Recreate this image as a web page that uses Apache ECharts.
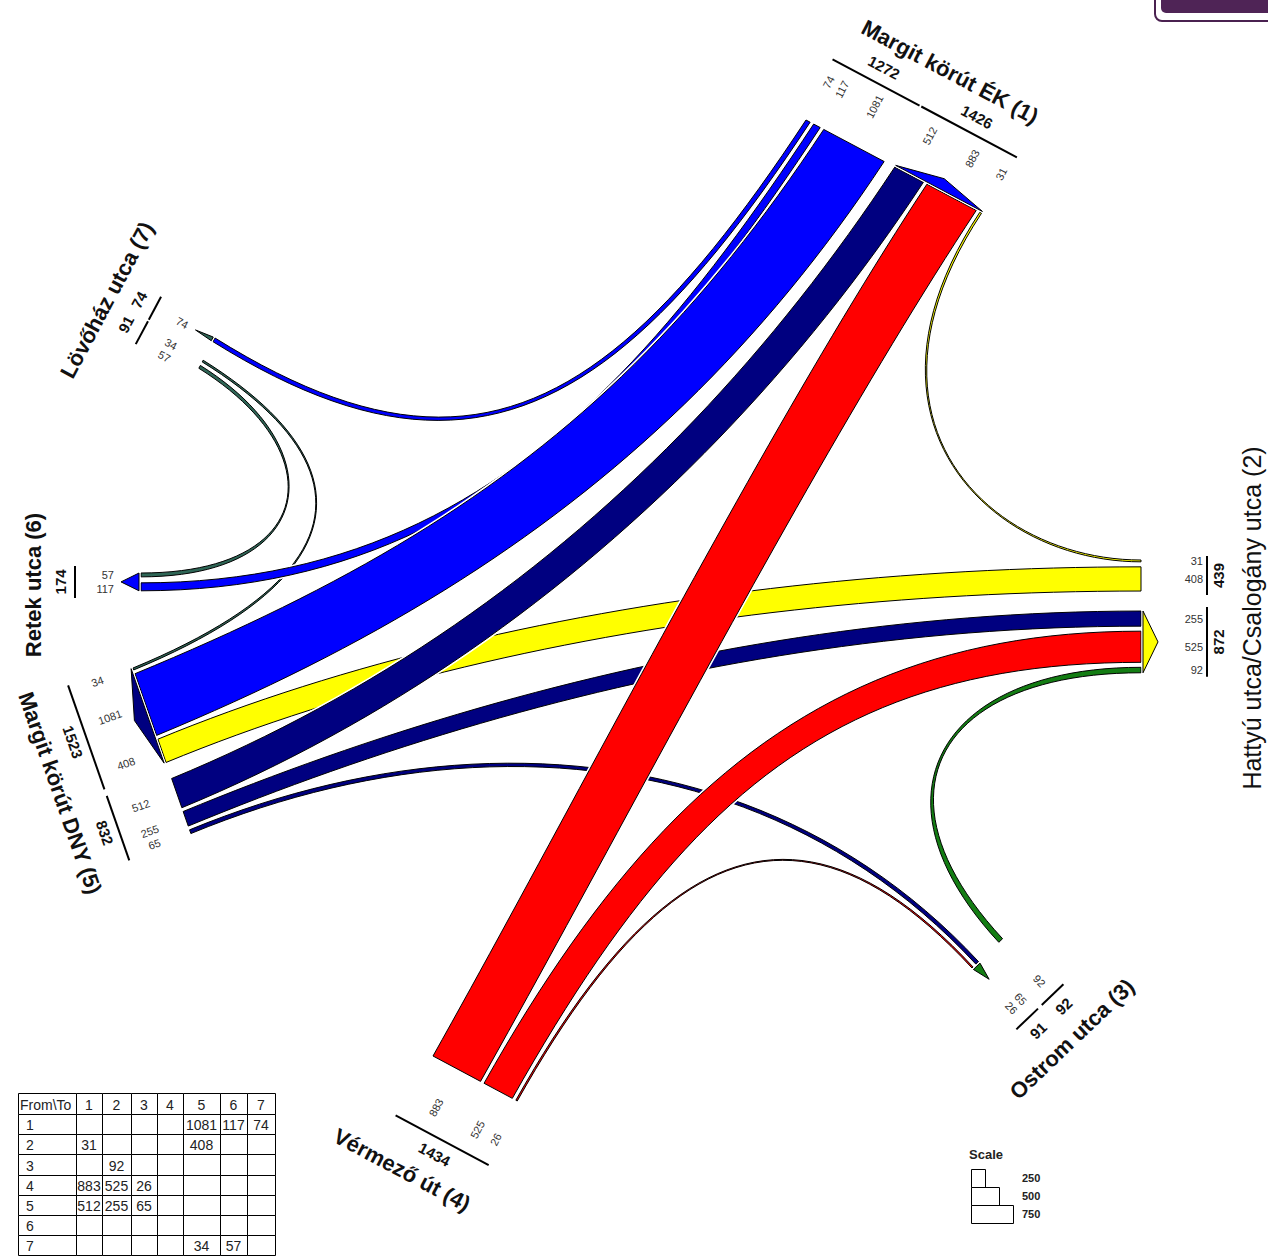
<!DOCTYPE html>
<html>
<head>
<meta charset="utf-8">
<title>Forgalmi áramlási diagram</title>
<script src="https://cdn.jsdelivr.net/npm/echarts@6.0.0/dist/echarts.min.js"></script>
<style>
html,body{margin:0;padding:0;background:#ffffff;}
#chart{width:1268px;height:1258px;}
</style>
</head>
<body>
<div id="chart"></div>
<script>
// ---------------- DATA ----------------
const armNames = ['Margit körút ÉK (1)', 'Hattyú utca/Csalogány utca (2)', 'Ostrom utca (3)', 'Vérmező út (4)', 'Margit körút DNY (5)', 'Retek utca (6)', 'Lövőház utca (7)'];
// flows (drawing order: later ones on top)
const flowFrom  = [7, 7, 1, 1, 1, 2, 3, 2, 5, 4, 5, 5, 4, 4];
const flowTo    = [6, 5, 7, 6, 5, 1, 2, 5, 3, 3, 2, 1, 2, 1];
const flowValue = [57, 34, 74, 117, 1081, 31, 92, 408, 65, 26, 255, 512, 525, 883];
const scaleValues = [250, 500, 750];
const tableHeader = ['From\\To', '1', '2', '3', '4', '5', '6', '7'];
const tableRowLabels = ['1', '2', '3', '4', '5', '6', '7'];

// ---------------- LAYOUT / STYLE ----------------
const K = 0.0565; // px per vehicle
const FONT = '"Liberation Sans", Arial, sans-serif';
const ARM = {
  '1': {p:[806,120], u:[0.883,0.469], d:[-0.55,0.835], s:1.12, gap:4, G:12,
        groups:[['1>7','1>6','1>5'],['5>1','4>1','2>1']], color:'#0000ff', arrowH:13,
        labOff:44, minSp:15, lineOff:66, ext:5, minLen:0, totOff:83, name:[950,72], nameFont:'bold 22px '+FONT},
  '2': {p:[1141,560], u:[0,1], d:[-1,0], s:1.05, gap:5, G:20,
        groups:[['2>1','2>5'],['5>2','4>2','3>2']], color:'#ffff00', arrowH:17,
        labOff:62, labAlign:'right', minSp:13, lineOff:66, ext:4, minLen:0, totOff:77, name:[1252,618], nameFont:'25px '+FONT},
  '3': {p:[972,968], u:[0.722,-0.692], d:[-0.68,-0.733], s:1, gap:4, G:28,
        groups:[['4>3','5>3'],['3>2']], color:'#137d13', arrowH:20,
        labOff:56, minSp:13, lineOff:75, ext:3, minLen:30, totOff:91, name:[1072,1039], nameFont:'bold 22px '+FONT},
  '4': {p:[433,1056], u:[0.882,0.471], d:[0.49,-0.872], s:1.08, gap:4, G:0,
        groups:[['4>1','4>2','4>3']], color:'#ff0000', arrowH:0,
        labOff:44, minSp:13, lineOff:70, ext:5, minLen:0, totOff:86, name:[402,1170], nameFont:'bold 22px '+FONT},
  '5': {p:[133,668], u:[0.33,0.944], d:[0.924,-0.382], s:1.07, gap:4, G:17,
        groups:[['7>5','1>5','2>5'],['5>1','5>2','5>3']], color:'#000080', arrowH:16,
        labOff:38, minSp:13, lineOff:67, ext:5, minLen:0, totOff:81, name:[60,793], nameFont:'bold 22px '+FONT},
  '6': {p:[141,573], u:[0,1], d:[1,0], s:1.2, gap:6, G:0,
        groups:[['7>6','1>6']], color:'#0000ff', arrowH:20,
        labOff:27, labAlign:'right', minSp:14, lineOff:66, ext:4, minLen:32, totOff:81, name:[33,585], nameFont:'bold 22px '+FONT},
  '7': {p:[215,338], u:[-0.471,0.882], d:[0.848,0.53], s:1, gap:4, G:21,
        groups:[['1>7'],['7>5','7>6']], color:'#2e6656', arrowH:21,
        labOff:36, minSp:14, lineOff:67, ext:3, minLen:26, totOff:85, name:[107,300], nameFont:'bold 22px '+FONT}
};
const FLOWBEND = {
  '7>6':[160,175], '7>5':[190,250], '1>7':[350,300], '1>6':[320,320], '1>5':[330,340],
  '2>1':[150,250], '3>2':[200,200], '2>5':[350,300], '5>3':[300,300], '4>3':[300,250],
  '5>2':[300,350], '5>1':[330,330], '4>2':[350,300], '4>1':[300,300]
};
const TBL = {x:[18,76,102,131,157,183,220,247,275], top:1093, hh:21, rh:20.2};
const SCALEBOX = {x:971, y:1169, h:18, labX:1022};

// ---------------- GEOMETRY ----------------
function flowKey(i){ return flowFrom[i] + '>' + flowTo[i]; }
function valueOf(key){ for (let i=0;i<flowValue.length;i++){ if (flowKey(i)===key) return flowValue[i]; } return 0; }

const SLOT = {}, GROUPS = {};
Object.keys(ARM).forEach(k => {
  const A = ARM[k];
  const ul = Math.hypot(A.u[0], A.u[1]); A.u = [A.u[0]/ul, A.u[1]/ul];
  const dl = Math.hypot(A.d[0], A.d[1]); A.d = [A.d[0]/dl, A.d[1]/dl];
  let n = [A.u[1], -A.u[0]];
  if (n[0]*A.d[0] + n[1]*A.d[1] > 0) n = [-n[0], -n[1]];
  A.n = n;
  SLOT[k] = {}; GROUPS[k] = [];
  let pos = 0;
  A.groups.forEach((g, gi) => {
    if (gi > 0) pos += A.G;
    const gs = pos; let total = 0;
    g.forEach((key, j) => {
      if (j > 0) pos += A.gap;
      const v = valueOf(key);
      const l = v * K * A.s;
      SLOT[k][key] = [pos, pos + l];
      pos += l; total += v;
    });
    GROUPS[k].push({start: gs, end: pos, total: total, incoming: g.every(key => key.split('>')[1] === k)});
  });
});

function pt(k, t, off){
  const A = ARM[k]; off = off || 0;
  return [A.p[0] + A.u[0]*t + A.n[0]*off, A.p[1] + A.u[1]*t + A.n[1]*off];
}

function ribbonPoints(i){
  const a = String(flowFrom[i]), b = String(flowTo[i]), key = flowKey(i);
  const A = ARM[a], B = ARM[b];
  const sa = SLOT[a][key], sb = SLOT[b][key];
  const A0 = pt(a, sa[0]), A1 = pt(a, sa[1]), B0 = pt(b, sb[0]), B1 = pt(b, sb[1]);
  const cA = A.d[0]*A.u[1] - A.d[1]*A.u[0];
  const cB = (-B.d[0])*B.u[1] - (-B.d[1])*B.u[0];
  const pairs = (cA*cB > 0) ? [[A0,B0],[A1,B1]] : [[A0,B1],[A1,B0]];
  const LA = FLOWBEND[key][0], LB = FLOWBEND[key][1];
  const N = 48;
  function edge(P, Q){
    const c1 = [P[0]+A.d[0]*LA, P[1]+A.d[1]*LA];
    const c2 = [Q[0]+B.d[0]*LB, Q[1]+B.d[1]*LB];
    const out = [];
    for (let s=0; s<=N; s++){
      const t = s/N, m = 1-t;
      out.push([m*m*m*P[0] + 3*m*m*t*c1[0] + 3*m*t*t*c2[0] + t*t*t*Q[0],
                m*m*m*P[1] + 3*m*m*t*c1[1] + 3*m*t*t*c2[1] + t*t*t*Q[1]]);
    }
    return out;
  }
  const e0 = edge(pairs[0][0], pairs[0][1]);
  const e1 = edge(pairs[1][0], pairs[1][1]).reverse();
  return e0.concat(e1);
}

function alongRot(u){
  let v = Math.abs(u[0]) < 0.05 ? [0,-1] : (u[0] > 0 ? u : [-u[0], -u[1]]);
  return -Math.atan2(v[1], v[0]);
}
function perpRot(n){
  if (Math.abs(n[1]) < 0.05) return 0;
  let v = n[0] > 0 ? n : [-n[0], -n[1]];
  return -Math.atan2(v[1], v[0]);
}
function txt(x, y, text, font, opts){
  opts = opts || {};
  const align = opts.align || 'center';
  return {type:'text', x:x, y:y, rotation: opts.rotation || 0, silent:true, z: 10,
    style:{text:String(text), font:font, fill: opts.fill || '#111',
      align: align, verticalAlign:'middle', textAlign: align, textVerticalAlign:'middle'}};
}

// ---------------- GRAPHIC (labels, lines) ----------------
const graphics = [];
Object.keys(ARM).forEach(k => {
  const A = ARM[k];
  const keys = [].concat.apply([], A.groups);
  let last = -1e9;
  keys.forEach(key => {
    const sl = SLOT[k][key];
    let c = (sl[0]+sl[1])/2;
    if (c < last + A.minSp) c = last + A.minSp;
    last = c;
    const P = pt(k, c, A.labOff);
    graphics.push(txt(P[0], P[1], valueOf(key), '11px ' + FONT, {rotation: perpRot(A.n), fill:'#333', align: A.labAlign || 'center'}));
  });
  GROUPS[k].forEach(g => {
    const c = (g.start + g.end)/2;
    const len = Math.max(g.end - g.start + 2*A.ext, A.minLen);
    const P = pt(k, c - len/2, A.lineOff), Q = pt(k, c + len/2, A.lineOff);
    graphics.push({type:'line', silent:true, shape:{x1:P[0], y1:P[1], x2:Q[0], y2:Q[1]}, style:{stroke:'#000', lineWidth:2}});
    const T = pt(k, c, A.totOff);
    graphics.push(txt(T[0], T[1], g.total, 'bold 15px ' + FONT, {rotation: alongRot(A.u)}));
  });
  graphics.push(txt(A.name[0], A.name[1], armNames[+k-1], A.nameFont, {rotation: alongRot(A.u)}));
});
graphics.push({type:'text', x:SCALEBOX.x - 2, y:SCALEBOX.y - 15, silent:true,
  style:{text:'Scale', font:'bold 13px ' + FONT, fill:'#222', align:'left', verticalAlign:'middle', textAlign:'left', textVerticalAlign:'middle'}});
graphics.push({type:'rect', silent:true, shape:{x:1155, y:-14, width:130, height:35, r:7}, style:{fill:'#ffffff', stroke:'#4a2150', lineWidth:2}});
graphics.push({type:'rect', silent:true, shape:{x:1161, y:-14, width:124, height:27, r:5}, style:{fill:'#4f2456'}});

// ---------------- SERIES ----------------
const ribbonSeries = {
  type:'custom', coordinateSystem:'cartesian2d', silent:true, clip:false, animation:false, z:2,
  data: flowValue.map((v, i) => [i, v]),
  renderItem: function(params, api){
    const i = api.value(0);
    const pts = ribbonPoints(i).map(p => api.coord(p));
    return {type:'group', children:[
      {type:'polygon', shape:{points:pts}, style:{fill:'none', stroke:'#ffffff', lineWidth:4, lineJoin:'round'}},
      {type:'polygon', shape:{points:pts}, style:{fill:ARM[String(flowFrom[i])].color, stroke:'#000000', lineWidth:1, lineJoin:'miter'}}
    ]};
  }
};

const arrowArms = Object.keys(ARM).filter(k => GROUPS[k].some(g => g.incoming)).map(Number);
const arrowSeries = {
  type:'custom', coordinateSystem:'cartesian2d', silent:true, clip:false, animation:false, z:3,
  data: arrowArms.map(k => [k, 0]),
  renderItem: function(params, api){
    const k = String(api.value(0));
    const A = ARM[k];
    const g = GROUPS[k].filter(x => x.incoming)[0];
    const pts = [pt(k, g.start, 2), pt(k, (g.start+g.end)/2, A.arrowH), pt(k, g.end, 2)].map(p => api.coord(p));
    return {type:'group', children:[
      {type:'polygon', shape:{points:pts}, style:{fill:'none', stroke:'#ffffff', lineWidth:3}},
      {type:'polygon', shape:{points:pts}, style:{fill:A.color, stroke:'#000000', lineWidth:1}}
    ]};
  }
};

const matrix = {};
flowFrom.forEach((f, i) => { matrix[f + '_' + flowTo[i]] = flowValue[i]; });
const tableData = [];
for (let r=0; r<=tableRowLabels.length; r++) for (let c=0; c<tableHeader.length; c++) tableData.push([r, c]);
const tableSeries = {
  type:'custom', coordinateSystem:'cartesian2d', silent:true, clip:false, animation:false, z:4,
  data: tableData,
  renderItem: function(params, api){
    const r = api.value(0), c = api.value(1);
    const x0 = TBL.x[c], x1 = TBL.x[c+1];
    const y0 = r === 0 ? TBL.top : TBL.top + TBL.hh + (r-1)*TBL.rh;
    const y1 = r === 0 ? TBL.top + TBL.hh : y0 + TBL.rh;
    let text = '', align = 'center', tx = (x0+x1)/2;
    if (r === 0) { text = tableHeader[c]; if (c === 0) { align = 'left'; tx = x0 + 2; } }
    else if (c === 0) { text = tableRowLabels[r-1]; align = 'left'; tx = x0 + 8; }
    else { const v = matrix[r + '_' + c]; text = v == null ? '' : String(v); }
    const P0 = api.coord([x0, y0]), P1 = api.coord([x1, y1]);
    const T = api.coord([tx, (y0+y1)/2 + 1]);
    return {type:'group', children:[
      {type:'rect', shape:{x:Math.round(P0[0])+0.5, y:Math.round(P0[1])+0.5, width:Math.round(P1[0])-Math.round(P0[0]), height:Math.round(P1[1])-Math.round(P0[1])},
       style:{fill:'#ffffff', stroke:'#000000', lineWidth:1}},
      {type:'text', x:T[0], y:T[1], style:{text:text, font:'14px ' + FONT, fill:'#222',
        align:align, verticalAlign:'middle', textAlign:align, textVerticalAlign:'middle'}}
    ]};
  }
};

const scaleSeries = {
  type:'custom', coordinateSystem:'cartesian2d', silent:true, clip:false, animation:false, z:4,
  data: scaleValues.map((v, i) => [i, v]),
  renderItem: function(params, api){
    const i = api.value(0), v = api.value(1);
    const P = api.coord([SCALEBOX.x, SCALEBOX.y + i*SCALEBOX.h]);
    const w = api.size([v*K, 0])[0];
    const L = api.coord([SCALEBOX.labX, SCALEBOX.y + (i+0.5)*SCALEBOX.h]);
    return {type:'group', children:[
      {type:'rect', shape:{x:Math.round(P[0])+0.5, y:Math.round(P[1])+0.5, width:Math.round(w), height:SCALEBOX.h}, style:{fill:'#ffffff', stroke:'#000000', lineWidth:1}},
      {type:'text', x:L[0], y:L[1], style:{text:String(v), font:'bold 11px ' + FONT, fill:'#222',
        align:'left', verticalAlign:'middle', textAlign:'left', textVerticalAlign:'middle'}}
    ]};
  }
};

const chart = echarts.init(document.getElementById('chart'), null, {renderer:'svg', width:1268, height:1258});
chart.setOption({
  backgroundColor:'#ffffff',
  animation:false,
  grid:{left:0, right:0, top:0, bottom:0, containLabel:false},
  xAxis:{type:'value', min:0, max:1268, show:false},
  yAxis:{type:'value', min:0, max:1258, inverse:true, show:false},
  series:[ribbonSeries, arrowSeries, tableSeries, scaleSeries],
  graphic:{elements: graphics}
});
</script>
</body>
</html>
